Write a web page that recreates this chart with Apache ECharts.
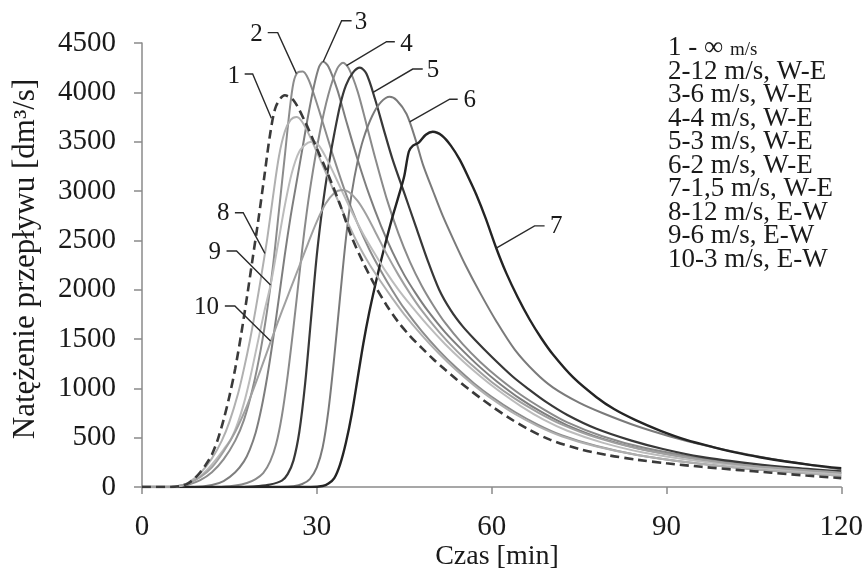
<!DOCTYPE html>
<html><head><meta charset="utf-8">
<script src="https://cdn.jsdelivr.net/npm/echarts@6/dist/echarts.min.js"></script>
<style>html,body{margin:0;padding:0;background:#fff}#c{width:866px;height:575px}</style>
</head><body><div id="c"></div>
<script>
// ---- data (time [min], flow [dm3/s]) ----
const xTickValues = [0, 30, 60, 90, 120];
const yTickValues = [0, 500, 1000, 1500, 2000, 2500, 3000, 3500, 4000, 4500];
const curveNames = ['1','2','3','4','5','6','7','8','9','10'];
const legendTexts = ['∞ m/s','12 m/s, W-E','6 m/s, W-E','4 m/s, W-E','3 m/s, W-E','2 m/s, W-E','1,5 m/s, W-E','12 m/s, E-W','6 m/s, E-W','3 m/s, E-W'];

const curve1 = [[0,0],[5,0],[7,15],[8,40],[9,85],[10,150],[11,230],[12,330],[13,480],[14,680],[15,920],[16,1200],[17,1540],[18,1920],[19,2320],[20,2720],[21,3150],[22,3580],[23,3860],[24.5,3970],[26,3920],[28,3700],[30,3430],[32,3160],[34,2860],[36,2530],[38,2270],[40,2040],[42,1840],[44,1670],[46,1530],[48,1410],[50,1295],[52,1190],[54,1090],[56,995],[58,905],[60,820],[63,700],[66,595],[70,480],[75,385],[80,322],[85,276],[90,240],[96,205],[102,174],[108,145],[114,116],[120,90]];
const curve2 = [[0,0],[6,0],[8,25],[10,70],[12,150],[14,280],[16,470],[17.5,680],[19,1000],[20.4,1400],[21.5,1800],[22.5,2250],[23.5,2800],[24.5,3350],[25.3,3800],[26,4100],[26.7,4200],[27.6,4210],[28.5,4140],[29.5,3980],[31,3700],[33,3320],[35,2970],[37,2670],[39,2410],[41,2190],[43,1990],[45,1810],[48,1580],[51,1380],[54,1205],[57,1050],[60,915],[64,760],[68,630],[72,525],[78,415],[85,325],[95,240],[105,180],[120,115]];
const curve3 = [[0,0],[9,0],[12,20],[14,60],[16,150],[17.5,260],[18.5,380],[19.5,550],[20.5,800],[21.5,1120],[22.5,1500],[23.5,1920],[24.5,2350],[25.5,2740],[26.5,3080],[27.5,3420],[28.5,3760],[29.5,4060],[30.4,4260],[31.1,4310],[32,4260],[33.5,4030],[35,3720],[37,3320],[39,2960],[41,2650],[43,2380],[45,2150],[47,1960],[49,1790],[52,1570],[55,1385],[58,1215],[61,1065],[65,890],[69,745],[73,625],[79,490],[86,380],[96,278],[106,205],[120,138]];
const curve4 = [[0,0],[13,0],[16,15],[18,40],[19.5,80],[20.8,140],[22,260],[23,430],[24,720],[25,1130],[26,1620],[27,2150],[28,2660],[29,3080],[30.5,3590],[32,3980],[33.5,4240],[34.5,4300],[35.5,4240],[37,4010],[38.5,3680],[40,3340],[42,2920],[44,2570],[46,2280],[48,2040],[50,1840],[52,1665],[55,1450],[58,1270],[61,1115],[65,935],[69,785],[73,655],[79,515],[86,400],[96,292],[106,215],[120,145]];
const curve5 = [[0,0],[17,0],[20,10],[22,25],[24,65],[25,130],[26,270],[27,560],[28,1050],[29,1700],[30,2350],[31,2850],[32,3250],[33,3580],[34,3870],[35,4070],[36.2,4200],[37.4,4250],[38.5,4190],[40,3930],[41.5,3620],[43,3320],[45,2980],[47,2640],[49,2300],[51,2000],[53,1790],[55,1630],[57,1500],[60,1320],[63.6,1120],[66.5,985],[69.4,860],[73,730],[78,590],[84,470],[89.4,385],[96,305],[105,235],[112,195],[120,160]];
const curve6 = [[0,0],[24,0],[26,8],[27.5,30],[28.8,80],[30,200],[31,400],[32,780],[33,1320],[34,1930],[35,2520],[36,2980],[37,3300],[38,3530],[39.5,3760],[41,3900],[42.5,3955],[43.7,3920],[45.4,3780],[47,3510],[48.2,3270],[50,2990],[51.6,2750],[53.5,2500],[55.5,2250],[58,1970],[60.8,1680],[64,1390],[67.5,1160],[70.5,1010],[75,855],[79,750],[85,615],[90.5,515],[96,430],[102,352],[110,265],[120,178]];
const curve7 = [[0,0],[29,0],[31,10],[32,35],[33,90],[34,230],[35,450],[36,740],[37,1100],[38,1460],[39,1770],[40,2040],[41,2290],[42,2520],[43,2740],[44,2940],[45,3150],[45.8,3400],[46.5,3460],[47.5,3490],[48.7,3570],[49.9,3600],[51.5,3560],[53,3460],[54.5,3320],[56,3140],[57.4,2960],[59,2720],[60.8,2420],[62.5,2170],[64.5,1920],[66.5,1700],[68.5,1510],[70.5,1345],[74,1110],[78,910],[81,790],[84.8,675],[89,570],[93.4,478],[98,405],[102,348],[106,302],[110.5,258],[115,222],[120,190]];
const curve8 = [[0,0],[5,0],[7,20],[8,45],[10,140],[12,290],[13.7,470],[15,660],[16.5,950],[17.5,1200],[18.5,1480],[19.5,1800],[20.5,2150],[21.5,2520],[22.5,2950],[23.5,3350],[24.5,3600],[25.5,3720],[26.5,3750],[27.5,3700],[29,3530],[31,3260],[33,2990],[35,2720],[37,2470],[39,2260],[41,2080],[43,1910],[45,1750],[48,1540],[51,1350],[54,1180],[57,1030],[60,895],[64,740],[68,615],[72,515],[78,410],[85,325],[95,240],[105,180],[120,115]];
const curve9 = [[0,0],[5,0],[7,15],[8,35],[10,110],[12,230],[14,380],[15.4,500],[16.5,660],[17.5,850],[18.5,1090],[19.7,1420],[21,1780],[22.1,2057],[23.3,2450],[24.5,2850],[25.7,3180],[27,3400],[28.5,3490],[29.5,3500],[30.5,3450],[32,3290],[34,3040],[36,2790],[38,2560],[40,2360],[42,2170],[44,2000],[46,1850],[49,1640],[52,1450],[55,1280],[58,1125],[61,985],[65,820],[69,680],[73,570],[79,450],[86,350],[96,258],[106,195],[120,130]];
const curve10 = [[0,0],[5,0],[7,20],[8,40],[10,100],[12,200],[14,360],[16,560],[18,820],[20,1130],[21.4,1360],[22.5,1540],[24,1780],[25.5,2010],[27,2240],[28.5,2470],[30,2690],[31.5,2870],[33,2980],[34.3,3010],[35.5,2990],[37,2900],[38.5,2760],[40,2590],[42,2360],[44,2150],[46,1960],[48,1790],[51,1570],[54,1380],[57,1215],[60,1065],[64,895],[68,755],[72,635],[78,500],[85,390],[95,285],[105,212],[120,145]];

// anchors of the numbered callouts (points on the curves, data units)
const calloutAnchors = [[22.2,3737],[26.5,4190],[31.1,4310],[35.1,4270],[39.65,4000],[45.94,3700],[60.8,2420],[21.09,2368],[22.06,2047],[22.06,1480]];

// ---- styling ----
const FONT = '"Liberation Serif","Times New Roman",serif';
const curves = [curve1,curve2,curve3,curve4,curve5,curve6,curve7,curve8,curve9,curve10];
const colors = ['#3a3a3a','#8c8c8c','#7e7e7e','#8a8a8a','#383838','#7a7a7a','#242424','#b0b0b0','#bcbcbc','#a0a0a0'];
const widths = [2.6,2,2,2,2.2,2,2.4,2,2,2];
// callout geometry in pixels relative to anchor: elbow near, elbow far, text centre
const calloutGeom = [
  [[-18.7,-44.3],[-26.7,-44.3],[-37.7,-42]],
  [[-18.7,-41],[-28.7,-41],[-40,-38.7]],
  [[18.4,-41],[28.4,-41],[37.7,-39.7]],
  [[40,-24],[48.3,-24],[60,-21.6]],
  [[39.7,-23.3],[49.7,-23.3],[60,-21.6]],
  [[40,-22.7],[48,-22.7],[60,-21]],
  [[38.3,-22.4],[48.3,-22.4],[60,-21.7]],
  [[-21.7,-40.6],[-30,-40.6],[-41.7,-40]],
  [[-34,-34],[-44,-34],[-55.7,-32.3]],
  [[-35.7,-35],[-45.7,-35],[-64,-33.3]]
];

const chart = echarts.init(document.getElementById('c'), null, {renderer:'canvas'});
const series = curves.map((d,i)=>({
  type:'line', name:curveNames[i], data:d, showSymbol:false, smooth:0.3,
  z: i===0 ? 5 : 3,
  lineStyle:{color:colors[i], width:widths[i], type: i===0 ? [9,5] : 'solid'},
  animation:false
}));
const axisTextStyle = {color:'#1a1a1a', fontFamily:FONT, fontSize:29};
chart.setOption({
  animation:false,
  backgroundColor:'#fff',
  grid:{left:142, right:24, top:43, bottom:88, containLabel:false},
  xAxis:{type:'value', min:0, max:120, interval:30,
    axisLine:{show:true, onZero:false, lineStyle:{color:'#8a8a8a', width:1.5}},
    axisTick:{show:true, length:7, lineStyle:{color:'#8a8a8a', width:1.5}},
    axisLabel:Object.assign({margin:26, formatter:v=>xTickValues.includes(v)?String(v):''}, axisTextStyle),
    splitLine:{show:false}},
  yAxis:{type:'value', min:0, max:4500, interval:500,
    axisLine:{show:true, lineStyle:{color:'#8a8a8a', width:1.5}},
    axisTick:{show:true, length:8, lineStyle:{color:'#8a8a8a', width:1.5}},
    axisLabel:Object.assign({margin:26, formatter:v=>yTickValues.includes(v)?String(v):''}, axisTextStyle),
    splitLine:{show:false}},
  series:series
});

const g = [];
// axis titles
g.push({type:'text', x:497, y:557, style:{text:'Czas [min]', font:'28px '+FONT, fill:'#1a1a1a', textAlign:'center', textVerticalAlign:'middle'}});
g.push({type:'text', x:26, y:259, rotation:Math.PI/2, style:{text:'Natężenie przepływu [dm³/s]', font:'31px '+FONT, fill:'#1a1a1a', textAlign:'center', textVerticalAlign:'middle'}});
// legend block
for (let i=0;i<10;i++){
  const y = 48 + i*23.5;
  if (i===0){
    g.push({type:'text', x:668, y:y, style:{text:'{a|1 - ∞ }{b|m/s}', textVerticalAlign:'middle',
      rich:{a:{font:'27px '+FONT, fill:'#1a1a1a'}, b:{font:'19px '+FONT, fill:'#1a1a1a', padding:[4,0,0,0]}}}});
  } else {
    g.push({type:'text', x:668, y:y, style:{text:curveNames[i]+'-'+legendTexts[i], font:'27px '+FONT, fill:'#1a1a1a', textVerticalAlign:'middle'}});
  }
}
// callouts
calloutAnchors.forEach((a,i)=>{
  const p = chart.convertToPixel({xAxisIndex:0,yAxisIndex:0}, a);
  const gm = calloutGeom[i];
  g.push({type:'polyline', z:10, shape:{points:[[p[0],p[1]],[p[0]+gm[0][0],p[1]+gm[0][1]],[p[0]+gm[1][0],p[1]+gm[1][1]]]},
    style:{stroke:'#2a2a2a', lineWidth:1.4, fill:null}});
  g.push({type:'text', z:10, x:p[0]+gm[2][0], y:p[1]+gm[2][1], style:{text:curveNames[i], font:'25px '+FONT, fill:'#1a1a1a', textAlign:'center', textVerticalAlign:'middle'}});
});
chart.setOption({graphic:g});
</script></body></html>
